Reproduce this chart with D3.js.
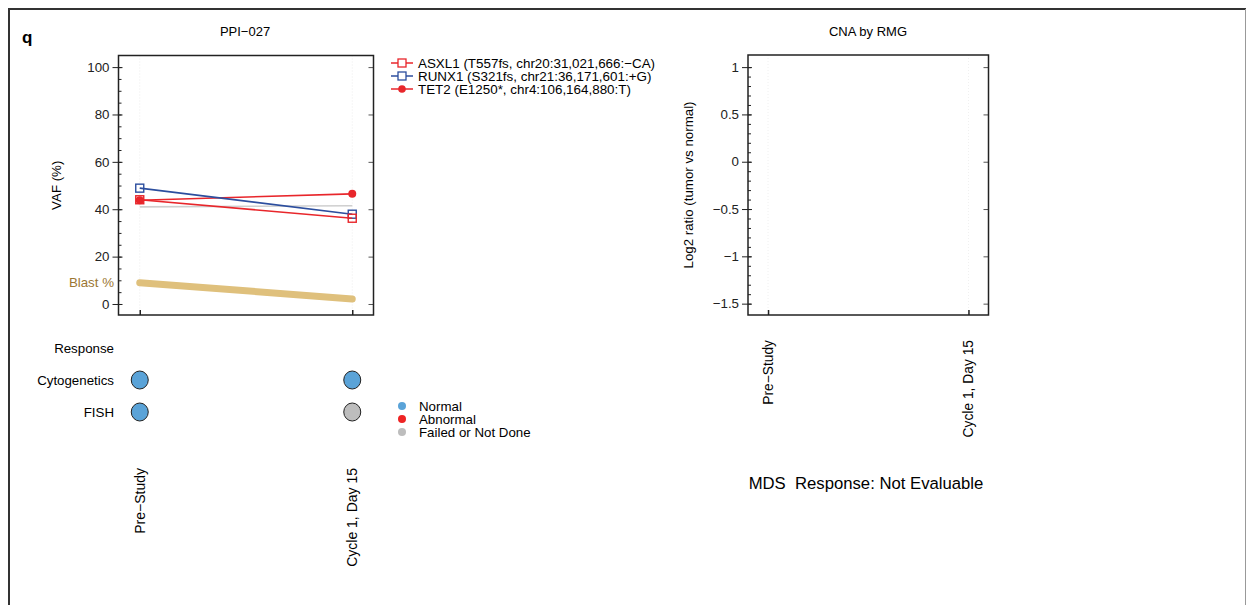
<!DOCTYPE html>
<html><head><meta charset="utf-8">
<script src="https://cdn.jsdelivr.net/npm/d3@7"></script>
<style>
html,body{margin:0;padding:0;background:#fff;}
svg{display:block;font-family:"Liberation Sans",Arial,Helvetica,sans-serif;}
</style></head>
<body>
<script>
// ---- data ----
const timepoints = ["Pre\u2212Study", "Cycle 1, Day 15"];
const asxl1 = [44.0, 36.2];
const runx1 = [48.9, 37.9];
const tet2 = [43.8, 46.5];
const greyRef = [41.0, 41.5];
const blast = [9.0, 2.1];
const seriesNames = ["ASXL1 (T557fs, chr20:31,021,666:\u2212CA)", "RUNX1 (S321fs, chr21:36,171,601:+G)", "TET2 (E1250*, chr4:106,164,880:T)"];
const vafTicks = [0, 20, 40, 60, 80, 100];
const rowLabels = ["Response", "Cytogenetics", "FISH"];
const cytogenetics = ["Normal", "Normal"];
const fish = ["Normal", "Failed or Not Done"];
const statusCats = ["Normal", "Abnormal", "Failed or Not Done"];
const cnaTicks = [1, 0.5, 0, -0.5, -1, -1.5];
const responseText = "MDS  Response: Not Evaluable";

const W = 1247, H = 605;
const svg = d3.select("body").append("svg").attr("width", W).attr("height", H);

const RED = "#e8262b", BLUE = "#2c4e9e", TAN = "#dfc07c", TANTXT = "#9c7733";
const statusColor = d3.scaleOrdinal().domain(statusCats).range(["#5aa3d8", "#ee2424", "#bdbdbd"]);
const fmtMinus = v => String(v).replace("-", "\u2212");

// outer frame
svg.append("line").attr("x1", 9).attr("y1", 9).attr("x2", 9).attr("y2", H).attr("stroke", "#333").attr("stroke-width", 2);
svg.append("line").attr("x1", 8).attr("y1", 9).attr("x2", 1246).attr("y2", 9).attr("stroke", "#333").attr("stroke-width", 2);
svg.append("line").attr("x1", 1245.5).attr("y1", 9).attr("x2", 1245.5).attr("y2", H).attr("stroke", "#999").attr("stroke-width", 1);

svg.append("text").attr("x", 22).attr("y", 43).attr("font-size", 17).attr("font-weight", "bold").text("q");

// ---------- left panel ----------
const L = {x0: 118.5, x1: 373.5, y0: 55.5, y1: 315};
const xL = d3.scalePoint().domain(timepoints).range([L.x0, L.x1]).padding(0.1);
const yL = d3.scaleLinear().domain([-4.65, 104.9]).range([L.y1, L.y0]);

svg.append("text").attr("x", 245).attr("y", 36).attr("text-anchor", "middle").attr("font-size", 13).text("PPI\u2212027");

const gL = svg.append("g");
timepoints.forEach(t => gL.append("line").attr("x1", xL(t)).attr("x2", xL(t)).attr("y1", L.y0).attr("y2", L.y1)
  .attr("stroke", "#ececec").attr("stroke-dasharray", "1,2"));
gL.append("g").attr("transform", `translate(${L.x0},0)`)
  .call(d3.axisRight(yL).tickValues(d3.range(0, 101, 5)).tickSize(3).tickFormat(""))
  .call(g => g.select(".domain").remove()).selectAll("line").attr("stroke", "#222");
gL.append("g").attr("transform", `translate(${L.x0},0)`)
  .call(d3.axisLeft(yL).tickValues(vafTicks).tickSizeInner(6).tickSizeOuter(0).tickPadding(3))
  .call(g => g.select(".domain").remove())
  .call(g => g.selectAll("text").attr("font-size", 13.3).attr("fill", "#222").attr("font-family", "Liberation Sans, Arial, sans-serif"))
  .call(g => g.selectAll("line").attr("stroke", "#222").attr("x2", -6).attr("x1", 4));
gL.append("g").attr("transform", `translate(${L.x1},0)`)
  .call(d3.axisLeft(yL).tickValues(vafTicks).tickSize(5).tickFormat(""))
  .call(g => g.select(".domain").remove()).selectAll("line").attr("stroke", "#555");
gL.append("g").attr("transform", `translate(0,${L.y1})`)
  .call(d3.axisTop(xL).tickSize(5).tickFormat(""))
  .call(g => g.select(".domain").remove()).selectAll("line").attr("stroke", "#222").attr("stroke-width", 1.5);
gL.append("rect").attr("x", L.x0).attr("y", L.y0).attr("width", L.x1 - L.x0).attr("height", L.y1 - L.y0)
  .attr("fill", "none").attr("stroke", "#222").attr("stroke-width", 1.5);

svg.append("text").attr("transform", `translate(61,${(L.y0 + L.y1) / 2}) rotate(-90)`).attr("text-anchor", "middle")
  .attr("font-size", 13.3).text("VAF (%)");

const lineGen = d3.line().x((d, i) => xL(timepoints[i])).y(d => yL(d));
gL.append("path").datum(greyRef).attr("d", lineGen).attr("fill", "none").attr("stroke", "#cfcfcf").attr("stroke-width", 1.6);
gL.append("path").datum(blast).attr("d", lineGen).attr("fill", "none").attr("stroke", TAN).attr("stroke-width", 7).attr("stroke-linecap", "round");
svg.append("text").attr("x", 114).attr("y", yL(blast[0])).attr("dy", "0.35em").attr("text-anchor", "end")
  .attr("font-size", 13.3).attr("fill", TANTXT).text("Blast %");

function drawSeries(vals, color, shape) {
  gL.append("path").datum(vals).attr("d", lineGen).attr("fill", "none").attr("stroke", color).attr("stroke-width", 1.6);
  vals.forEach((v, i) => {
    const cx = xL(timepoints[i]), cy = yL(v);
    if (shape === "square") gL.append("rect").attr("x", cx - 4).attr("y", cy - 4).attr("width", 8).attr("height", 8)
      .attr("fill", "none").attr("stroke", color).attr("stroke-width", 1.4);
    else gL.append("circle").attr("cx", cx).attr("cy", cy).attr("r", 4).attr("fill", color);
  });
}
drawSeries(tet2, RED, "circle");
drawSeries(runx1, BLUE, "square");
drawSeries(asxl1, RED, "square");

const legColors = [RED, BLUE, RED], legShapes = ["square", "square", "circle"], legY = [63, 76, 89];
seriesNames.forEach((n, i) => {
  const g = svg.append("g").attr("transform", `translate(0,${legY[i]})`);
  g.append("line").attr("x1", 391).attr("x2", 413).attr("stroke", legColors[i]).attr("stroke-width", 1.5);
  if (legShapes[i] === "square") g.append("rect").attr("x", 398).attr("y", -4).attr("width", 8).attr("height", 8)
    .attr("fill", "#fff").attr("stroke", legColors[i]).attr("stroke-width", 1.3);
  else g.append("circle").attr("cx", 402).attr("cy", 0).attr("r", 3.8).attr("fill", legColors[i]);
  g.append("text").attr("x", 418).attr("dy", "0.35em").attr("font-size", 13.4).text(n);
});

const rowY = [348, 380, 412];
rowLabels.forEach((r, i) => svg.append("text").attr("x", 114).attr("y", rowY[i]).attr("dy", "0.35em")
  .attr("text-anchor", "end").attr("font-size", 13.3).text(r));
[cytogenetics, fish].forEach((arr, j) => arr.forEach((s, i) =>
  svg.append("ellipse").attr("cx", xL(timepoints[i])).attr("cy", rowY[j + 1]).attr("rx", 8.5).attr("ry", 9)
    .attr("fill", statusColor(s)).attr("stroke", "#222").attr("stroke-width", 1)));

const stY = [406, 419, 432];
statusCats.forEach((s, i) => {
  svg.append("circle").attr("cx", 402).attr("cy", stY[i]).attr("r", 4).attr("fill", statusColor(s));
  svg.append("text").attr("x", 419).attr("y", stY[i]).attr("dy", "0.35em").attr("font-size", 13.3).text(s);
});

timepoints.forEach(t => svg.append("text").attr("transform", `translate(${xL(t) + 4.8},468) rotate(-90)`)
  .attr("text-anchor", "end").attr("font-size", 14).text(t));

// ---------- right panel ----------
const R = {x0: 748, x1: 988.5, y0: 55, y1: 315};
const xR = d3.scalePoint().domain(timepoints).range([R.x0, R.x1]).padding(0.1);
const yR = d3.scaleLinear().domain([-1.62, 1.128]).range([R.y1, R.y0]);

svg.append("text").attr("x", 868).attr("y", 36).attr("text-anchor", "middle").attr("font-size", 13).text("CNA by RMG");
const gR = svg.append("g");
timepoints.forEach(t => gR.append("line").attr("x1", xR(t)).attr("x2", xR(t)).attr("y1", R.y0).attr("y2", R.y1)
  .attr("stroke", "#f0f0f0").attr("stroke-dasharray", "1,2"));
gR.append("g").attr("transform", `translate(${R.x0},0)`)
  .call(d3.axisRight(yR).tickValues(d3.range(-15, 11, 1).map(v => v / 10)).tickSize(3).tickFormat(""))
  .call(g => g.select(".domain").remove()).selectAll("line").attr("stroke", "#222");
gR.append("g").attr("transform", `translate(${R.x0},0)`)
  .call(d3.axisLeft(yR).tickValues(cnaTicks).tickSizeInner(6).tickSizeOuter(0).tickPadding(3).tickFormat(fmtMinus))
  .call(g => g.select(".domain").remove())
  .call(g => g.selectAll("text").attr("font-size", 13.3).attr("fill", "#222").attr("font-family", "Liberation Sans, Arial, sans-serif"))
  .call(g => g.selectAll("line").attr("stroke", "#222").attr("x2", -6).attr("x1", 4));
gR.append("g").attr("transform", `translate(${R.x1},0)`)
  .call(d3.axisLeft(yR).tickValues(cnaTicks).tickSize(5).tickFormat(""))
  .call(g => g.select(".domain").remove()).selectAll("line").attr("stroke", "#555");
gR.append("g").attr("transform", `translate(0,${R.y1})`)
  .call(d3.axisTop(xR).tickSize(5).tickFormat(""))
  .call(g => g.select(".domain").remove()).selectAll("line").attr("stroke", "#222").attr("stroke-width", 1.5);
gR.append("rect").attr("x", R.x0).attr("y", R.y0).attr("width", R.x1 - R.x0).attr("height", R.y1 - R.y0)
  .attr("fill", "none").attr("stroke", "#222").attr("stroke-width", 1.5);
svg.append("text").attr("transform", `translate(693,${(R.y0 + R.y1) / 2}) rotate(-90)`).attr("text-anchor", "middle")
  .attr("font-size", 13.3).text("Log2 ratio (tumor vs normal)");
timepoints.forEach(t => svg.append("text").attr("transform", `translate(${xR(t) + 4.8},340) rotate(-90)`)
  .attr("text-anchor", "end").attr("font-size", 13.8).text(t));

svg.append("text").attr("x", 866).attr("y", 483).attr("dy", "0.35em").attr("text-anchor", "middle")
  .attr("font-size", 16.7).attr("xml:space", "preserve").style("white-space", "pre").text(responseText);
</script>
</body></html>
